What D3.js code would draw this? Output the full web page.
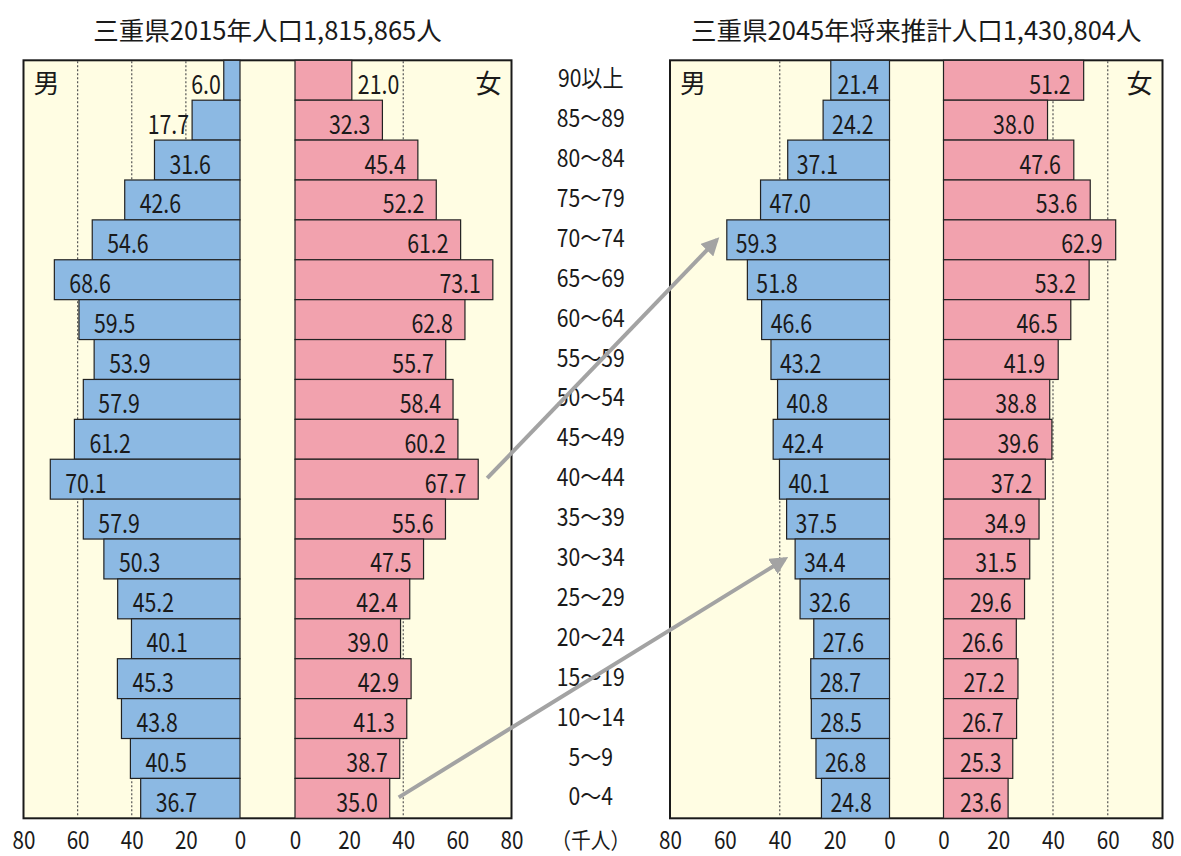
<!doctype html>
<html lang="ja">
<head>
<meta charset="UTF-8">
<script type="text/javascript" src="https://cdn.jsdelivr.net/npm/d3@7"></script>
<style>
  body { margin: 0; background: #fff; }
  svg text { font-family: "Noto Sans CJK JP", "Noto Sans", sans-serif; fill: #1a1a1a; }
  .bg { fill: #fffde3; stroke: #1a1a1a; stroke-width: 2; }
  .grid { stroke: #555; stroke-width: 1.2; stroke-dasharray: 2,2; }
  .male { fill: #8cb9e3; stroke: #222; stroke-width: 1.2; }
  .female { fill: #f2a2ae; stroke: #222; stroke-width: 1.2; }
  .arrow { stroke: #a3a3a3; stroke-width: 4; fill: none; }
</style>
</head>
<body>
<svg id="chart" width="1181" height="856"></svg>
<script type="text/javascript">
// age groups, top to bottom
let ages = ["90以上", "85～89", "80～84", "75～79", "70～74", "65～69", "60～64", "55～59", "50～54",
  "45～49", "40～44", "35～39", "30～34", "25～29", "20～24", "15～19", "10～14", "5～9", "0～4"];
// thousand people
let male2015 = [6.0, 17.7, 31.6, 42.6, 54.6, 68.6, 59.5, 53.9, 57.9, 61.2, 70.1, 57.9, 50.3, 45.2, 40.1, 45.3, 43.8, 40.5, 36.7];
let female2015 = [21.0, 32.3, 45.4, 52.2, 61.2, 73.1, 62.8, 55.7, 58.4, 60.2, 67.7, 55.6, 47.5, 42.4, 39.0, 42.9, 41.3, 38.7, 35.0];
let male2045 = [21.4, 24.2, 37.1, 47.0, 59.3, 51.8, 46.6, 43.2, 40.8, 42.4, 40.1, 37.5, 34.4, 32.6, 27.6, 28.7, 28.5, 26.8, 24.8];
let female2045 = [51.2, 38.0, 47.6, 53.6, 62.9, 53.2, 46.5, 41.9, 38.8, 39.6, 37.2, 34.9, 31.5, 29.6, 26.6, 27.2, 26.7, 25.3, 23.6];
let tickValues = [0, 20, 40, 60, 80];
let titles = ["三重県2015年人口1,815,865人", "三重県2045年将来推計人口1,430,804人"];
let unitLabel = "（千人）";
// cohort arrows: [2015 female group, 2045 male group]
let arrows = [["0～4", "30～34"], ["40～44", "70～74"]];

let svg = d3.select("#chart");
let yTop = 60.3, yBottom = 818.3;
let y = d3.scaleBand().domain(ages).range([yTop, yBottom]).padding(0);

// x scales for the four half-pyramids
let xM15 = d3.scaleLinear().domain([0, 80]).range([240, 23.5]);
let xF15 = d3.scaleLinear().domain([0, 80]).range([295, 511.5]);
let xM45 = d3.scaleLinear().domain([0, 80]).range([889.5, 670]);
let xF45 = d3.scaleLinear().domain([0, 80]).range([943.5, 1162.5]);

// text helper with a condensed look
function label(g, x, yy, txt, size, sx, anchor) {
  return g.append("text")
    .attr("transform", "translate(" + x + "," + yy + ") scale(" + sx + ",1)")
    .attr("text-anchor", anchor)
    .attr("dominant-baseline", "central")
    .style("font-size", size + "px")
    .text(txt);
}

let panels = [
  { m: xM15, f: xF15, male: male2015, female: female2015, title: titles[0],
    gridM: [20, 40, 60], gridF: [20, 40] },
  { m: xM45, f: xF45, male: male2045, female: female2045, title: titles[1],
    gridM: [20, 40], gridF: [20, 40, 60] }
];

panels.forEach(function(p, pi) {
  let g = svg.append("g");
  let x0 = p.m(80), x1 = p.f(80);
  g.append("rect").attr("class", "bg")
    .attr("x", x0).attr("y", yTop).attr("width", x1 - x0).attr("height", yBottom - yTop);

  // dotted grid
  g.selectAll(".gm").data(p.gridM).enter().append("line").attr("class", "grid")
    .attr("x1", d => p.m(d)).attr("x2", d => p.m(d)).attr("y1", yTop + 1).attr("y2", yBottom - 1);
  g.selectAll(".gf").data(p.gridF).enter().append("line").attr("class", "grid")
    .attr("x1", d => p.f(d)).attr("x2", d => p.f(d)).attr("y1", yTop + 1).attr("y2", yBottom - 1);

  // bars
  g.selectAll(".mb").data(p.male).enter().append("rect").attr("class", "male")
    .attr("x", d => p.m(d)).attr("y", (d, i) => y(ages[i]))
    .attr("width", d => p.m(0) - p.m(d)).attr("height", y.bandwidth());
  g.selectAll(".fb").data(p.female).enter().append("rect").attr("class", "female")
    .attr("x", p.f(0)).attr("y", (d, i) => y(ages[i]))
    .attr("width", d => p.f(d) - p.f(0)).attr("height", y.bandwidth());

  // value labels
  p.male.forEach(function(v, i) {
    let cy = y(ages[i]) + y.bandwidth() / 2 + 2;
    let left = p.m(v);
    if (pi === 0) {
      if (v < 20) label(g, left - 3, cy, v.toFixed(1), 26, 0.82, "end");
      else label(g, left + 15, cy, v.toFixed(1), 26, 0.82, "start");
    } else {
      label(g, Math.min(left + 9, p.m(0) - 52), cy, v.toFixed(1), 26, 0.82, "start");
    }
  });
  p.female.forEach(function(v, i) {
    let cy = y(ages[i]) + y.bandwidth() / 2 + 2;
    let right = p.f(v);
    if (pi === 0) {
      if (v < 25) label(g, right + 6, cy, v.toFixed(1), 26, 0.82, "start");
      else label(g, right - 12, cy, v.toFixed(1), 26, 0.82, "end");
    } else {
      label(g, Math.max(right - 13, p.f(0) + 58), cy, v.toFixed(1), 26, 0.82, "end");
    }
  });

  // 男 / 女
  label(g, x0 + 10, yTop + 21, "男", 26, 1, "start");
  label(g, x1 - 10, yTop + 21, "女", 26, 1, "end");

  // title
  label(g, (x0 + x1) / 2, 28, p.title, 25.5, 1, "middle");

  // axes
  [p.m, p.f].forEach(function(sc) {
    let ax = g.append("g").attr("transform", "translate(0," + yBottom + ")")
      .call(d3.axisBottom(sc).tickValues(tickValues).tickSize(0).tickPadding(0));
    ax.select(".domain").remove();
    ax.selectAll("text").remove();
    ax.selectAll(".tick").each(function(d) {
      label(d3.select(this), 0, 20, d, 24, 0.86, "middle");
    });
  });
});

// age labels in the middle
let mid = (xF15(80) + xM45(80)) / 2;
let ag = svg.append("g");
ages.forEach(function(a) {
  label(ag, mid, y(a) + y.bandwidth() / 2 - 3, a, 24, 0.88, "middle");
});
label(ag, mid, yBottom + 20, unitLabel, 22, 0.9, "middle");

// cohort arrows
svg.append("defs").append("marker")
  .attr("id", "head").attr("viewBox", "0 0 10 10").attr("refX", 8).attr("refY", 5)
  .attr("markerWidth", 4.5).attr("markerHeight", 4.5).attr("orient", "auto")
  .append("path").attr("d", "M0,0 L10,5 L0,10 Z").attr("fill", "#a3a3a3");

arrows.forEach(function(a) {
  let i0 = ages.indexOf(a[0]), i1 = ages.indexOf(a[1]);
  let sx = xF15(female2015[i0]) + 9, sy = y(a[0]) + y.bandwidth() / 2 - 1;
  let ex = xM45(male2045[i1]) - 10, ey = y(a[1]) + y.bandwidth() / 2;
  svg.append("line").attr("class", "arrow")
    .attr("x1", sx).attr("y1", sy).attr("x2", ex).attr("y2", ey)
    .attr("marker-end", "url(#head)");
});
</script>
</body>
</html>
